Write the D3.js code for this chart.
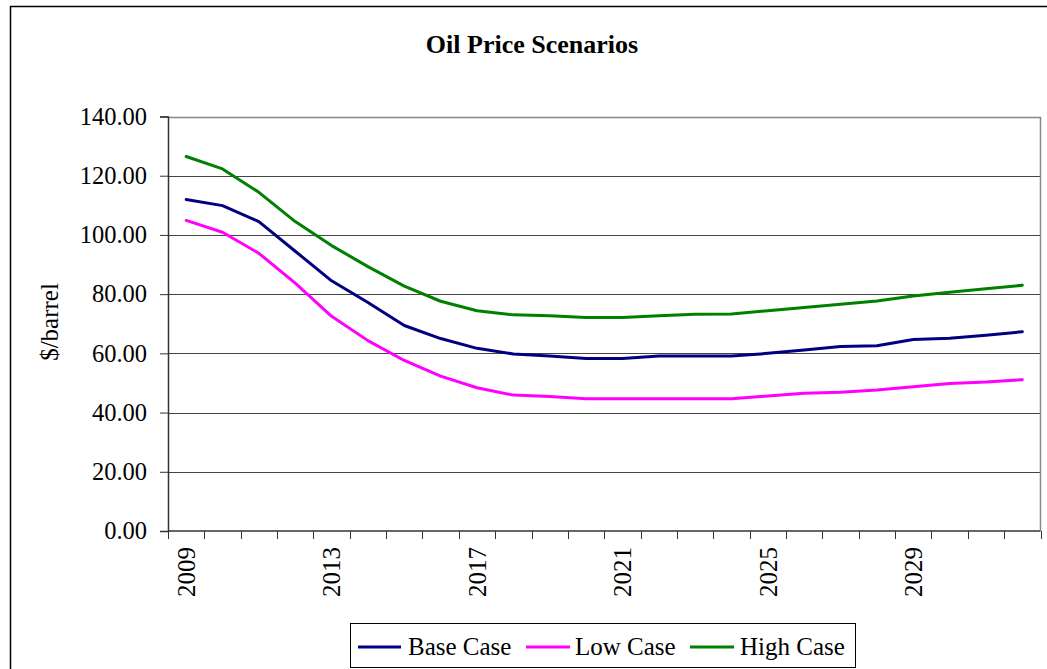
<!DOCTYPE html>
<html>
<head>
<meta charset="utf-8">
<script src="https://cdn.jsdelivr.net/npm/d3@7"></script>
<style>
  html, body { margin: 0; padding: 0; background: #fff; }
  svg { display: block; font-family: "Liberation Serif", "Times New Roman", serif; }
</style>
</head>
<body>
<svg id="chart" width="1047" height="669"></svg>
<script>
// Oil price projections, $/barrel
const years = d3.range(2009, 2033);
const baseCase = [112.0, 109.9, 104.5, 94.5, 84.5, 77.2, 69.4, 65.0, 61.7, 59.8, 59.1, 58.3,
                  58.3, 59.1, 59.1, 59.1, 60.0, 61.1, 62.3, 62.6, 64.7, 65.1, 66.1, 67.3];
const lowCase  = [104.9, 100.9, 93.8, 83.7, 72.5, 64.3, 57.6, 52.3, 48.4, 45.9, 45.4, 44.7,
                  44.7, 44.7, 44.7, 44.7, 45.6, 46.5, 46.9, 47.6, 48.7, 49.8, 50.3, 51.1];
const highCase = [126.5, 122.3, 114.4, 104.5, 96.4, 89.3, 82.7, 77.6, 74.4, 73.0, 72.7, 72.1,
                  72.1, 72.7, 73.2, 73.3, 74.4, 75.5, 76.6, 77.7, 79.4, 80.6, 81.8, 83.0];
const yTicks = [0, 20, 40, 60, 80, 100, 120, 140];
const xLabelYears = [2009, 2013, 2017, 2021, 2025, 2029];

const series = [
  { name: "Base Case", values: baseCase, color: "#000080" },
  { name: "Low Case",  values: lowCase,  color: "#FF00FF" },
  { name: "High Case", values: highCase, color: "#008000" }
];

const svg = d3.select("#chart");

// chart area frame
svg.append("rect")
  .attr("x", 10.5).attr("y", 6.5)
  .attr("width", 1060).attr("height", 680)
  .attr("fill", "none").attr("stroke", "#000").attr("stroke-width", 1.5);

const plot = { left: 168, right: 1040.5, top: 116.5, bottom: 531 };

const x = d3.scaleBand().domain(years).range([plot.left, plot.right]).padding(0);
const y = d3.scaleLinear().domain([0, 140]).range([plot.bottom, plot.top]);

// title
svg.append("text")
  .attr("x", 532).attr("y", 53)
  .attr("text-anchor", "middle")
  .attr("font-size", 26).attr("font-weight", "bold")
  .text("Oil Price Scenarios");

// horizontal gridlines
svg.append("g")
  .selectAll("line")
  .data(yTicks.filter(t => t > 0 && t < 140))
  .join("line")
  .attr("x1", plot.left).attr("x2", plot.right)
  .attr("y1", d => Math.round(y(d)) + 0.5).attr("y2", d => Math.round(y(d)) + 0.5)
  .attr("stroke", "#444").attr("stroke-width", 1);

// plot area border (top and right)
svg.append("path")
  .attr("d", `M${plot.left},${Math.round(plot.top) + 0.5}H${plot.right}V${plot.bottom}`)
  .attr("fill", "none").attr("stroke", "#888").attr("stroke-width", 1.5);

// y axis
const yAxis = d3.axisLeft(y)
  .tickValues(yTicks)
  .tickSize(8)
  .tickPadding(13)
  .tickFormat(d3.format(".2f"));
const gy = svg.append("g")
  .attr("transform", `translate(${plot.left},0)`)
  .call(yAxis);
gy.select(".domain").attr("stroke", "#333").attr("stroke-width", 1.5);
gy.selectAll(".tick line").attr("stroke", "#333");
gy.selectAll(".tick text")
  .attr("font-family", "Liberation Serif, Times New Roman, serif")
  .attr("font-size", 24.5).attr("fill", "#000");

// x axis: ticks on category boundaries, labels every fourth year
const boundaries = years.map(yr => x(yr)).concat([plot.right]);
const gx = svg.append("g");
gx.append("line")
  .attr("x1", plot.left).attr("x2", plot.right)
  .attr("y1", plot.bottom).attr("y2", plot.bottom)
  .attr("stroke", "#333").attr("stroke-width", 1.5);
gx.selectAll("line.tick")
  .data(boundaries)
  .join("line")
  .attr("class", "tick")
  .attr("x1", d => Math.round(d) + 0.5).attr("x2", d => Math.round(d) + 0.5)
  .attr("y1", plot.bottom).attr("y2", plot.bottom + 8)
  .attr("stroke", "#333").attr("stroke-width", 1);
gx.selectAll("text")
  .data(xLabelYears)
  .join("text")
  .attr("transform", d => `translate(${x(d) + x.bandwidth() / 2},547) rotate(-90)`)
  .attr("text-anchor", "end")
  .attr("dy", "0.35em")
  .attr("font-size", 25)
  .text(d => d);

// y axis title
svg.append("text")
  .attr("transform", "translate(49,322) rotate(-90)")
  .attr("text-anchor", "middle")
  .attr("dy", "0.35em")
  .attr("font-size", 25)
  .text("$/barrel");

// series lines
const line = d3.line()
  .x((d, i) => x(years[i]) + x.bandwidth() / 2)
  .y(d => y(d));

svg.append("g")
  .selectAll("path")
  .data(series)
  .join("path")
  .attr("d", s => line(s.values))
  .attr("fill", "none")
  .attr("stroke", s => s.color)
  .attr("stroke-width", 3)
  .attr("stroke-linejoin", "round")
  .attr("stroke-linecap", "round");

// legend
const legend = svg.append("g");
legend.append("rect")
  .attr("x", 350.5).attr("y", 623.5)
  .attr("width", 505).attr("height", 44)
  .attr("fill", "#fff").attr("stroke", "#000").attr("stroke-width", 1);

const legendItems = [
  { s: series[0], x0: 358, x1: 401, tx: 408 },
  { s: series[1], x0: 526, x1: 570, tx: 575 },
  { s: series[2], x0: 690, x1: 734, tx: 740 }
];
legendItems.forEach(it => {
  legend.append("line")
    .attr("x1", it.x0).attr("x2", it.x1)
    .attr("y1", 647).attr("y2", 647)
    .attr("stroke", it.s.color).attr("stroke-width", 3);
  legend.append("text")
    .attr("x", it.tx).attr("y", 655)
    .attr("font-size", 25)
    .text(it.s.name);
});
</script>
</body>
</html>
